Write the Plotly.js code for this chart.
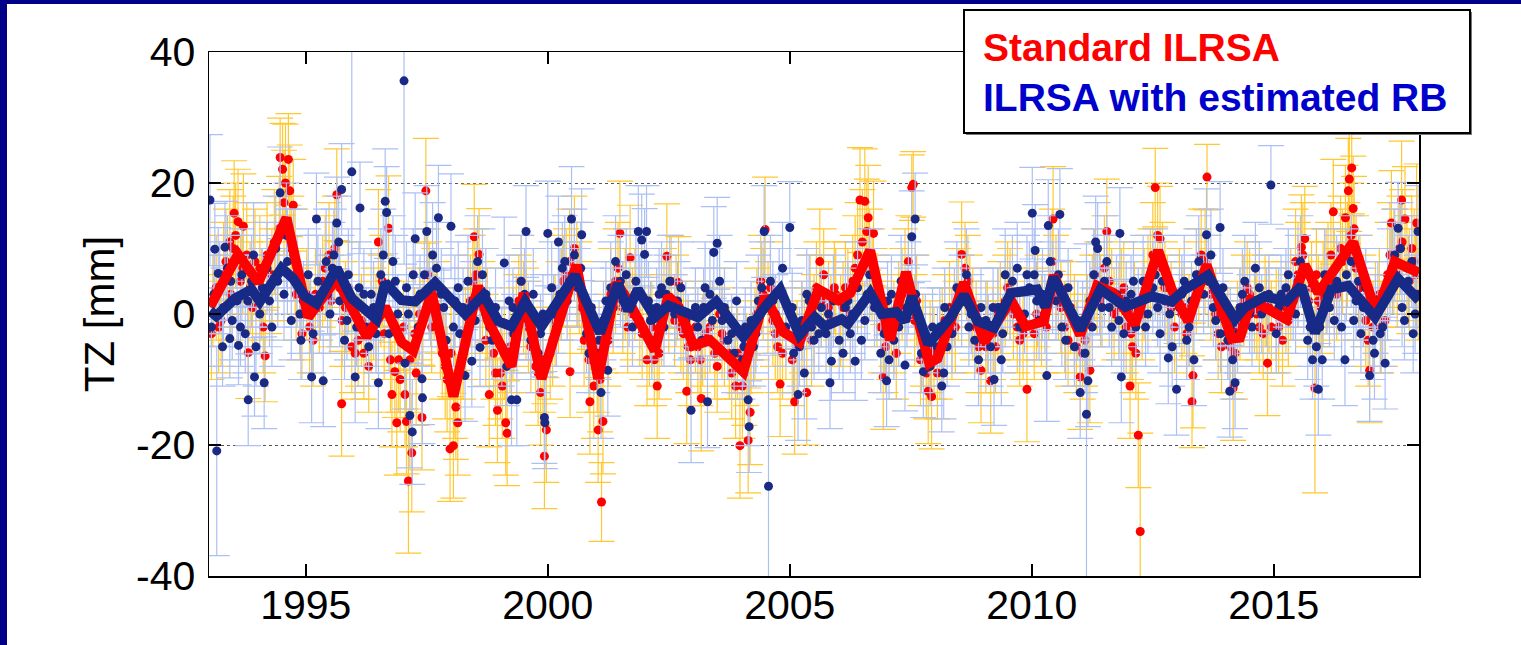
<!DOCTYPE html>
<html>
<head>
<meta charset="utf-8">
<script src="https://cdn.plot.ly/plotly-3.0.1.min.js"></script>
<style>
  html, body { margin: 0; padding: 0; background: #ffffff; }
  #chart { width: 1521px; height: 645px; }
</style>
</head>
<body>
<div id="chart"></div>
<script>
// ---------------- data ----------------
const xTicks = [1995, 2000, 2005, 2010, 2015];
const yTicks = [-40, -20, 0, 20, 40];

const seriesNames = ["Standard ILRSA", "ILRSA with estimated RB"];

// Blue points (ILRSA with estimated RB), first batch (incl. outliers)
const blueX = [
 1993.02,1993.05,1993.12,1993.16,1993.19,1993.22,1993.28,1993.33,1993.38,1993.43,1993.48,1993.58,1993.61,1993.68,1993.75,1993.81,1993.88,1993.92,1993.94,
 1994.05,1994.14,1994.2,1994.3,1994.38,1994.47,1994.55,1994.62,1994.7,1994.82,1994.9,1994.95,
 1995.05,1995.12,1995.15,1995.22,1995.3,1995.36,1995.42,1995.5,1995.58,1995.64,1995.7,1995.74,1995.8,1995.88,1995.95,
 1996.02,1996.05,1996.12,1996.2,1996.3,1996.4,1996.5,1996.55,1996.64,1996.67,1996.72,1996.8,1996.9,
 1997.03,1997.05,1997.08,1997.15,1997.2,1997.26,1997.32,1997.4,1997.41,1997.45,1997.5,1997.58,1997.62,1997.74,1997.8,1997.9,
 1998.0,1998.08,1998.18,1998.29,1998.35,1998.43,1998.5,1998.55,1998.6,1998.72,1998.85,1998.92,
 1999.05,1999.1,1999.2,1999.25,1999.3,1999.36,1999.45,1999.55,1999.6,1999.7,1999.8,1999.9,1999.93,1999.94,
 2000.0,2000.08,2000.18,2000.22,2000.3,2000.4,2000.49,2000.55,2000.62,2000.7,2000.8,2000.9,
 2001.02,2001.1,2001.15,2001.24,2001.3,2001.4,2001.55,2001.62,2001.75,2001.82,2001.87,2001.94,
 2002.0,2002.04,2002.08,2002.15,2002.3,2002.4,2002.52,2002.62,2002.75,2002.9,2002.96,
 2003.05,2003.18,2003.25,2003.3,2003.4,2003.43,2003.5,2003.55,2003.65,2003.8,2003.9,
 2004.02,2004.08,2004.14,2004.16,2004.25,2004.35,2004.47,2004.56,2004.6,2004.7,2004.85,2004.92,
 2005.0,2005.08,2005.17,2005.25,2005.3,2005.4,2005.5,2005.65,2005.75,2005.83,2005.86,2005.9,
 2006.02,2006.15,2006.25,2006.35,2006.4,2006.55,2006.65,2006.8,2006.95,
 2007.0,2007.05,2007.1,2007.25,2007.38,2007.45,2007.52,2007.59,2007.65,2007.72,2007.76,2007.9,2007.95,
 2008.05,2008.14,2008.18,2008.2,2008.35,2008.45,2008.65,2008.75,2008.82,2008.9,
 2009.05,2009.15,2009.22,2009.3,2009.37,2009.45,2009.55,2009.7,2009.85,2009.95,
 2010.01,2010.05,2010.07,2010.15,2010.22,2010.31,2010.34,2010.38,2010.5,2010.58,2010.62,2010.75,2010.88,
 2011.0,2011.05,2011.13,2011.16,2011.2,2011.28,2011.32,2011.36,2011.45,2011.55,2011.65,2011.75,2011.82,2011.85,2011.9,
 2012.05,2012.15,2012.3,2012.4,2012.55,2012.65,2012.75,2012.82,2012.9,2012.99,
 2013.05,2013.15,2013.25,2013.35,2013.45,2013.55,2013.61,2013.7,2013.8,2013.89,2013.95,
 2014.05,2014.09,2014.15,2014.2,2014.3,2014.4,2014.55,2014.62,2014.75,2014.9,2014.94,
 2015.05,2015.15,2015.3,2015.45,2015.55,2015.7,2015.8,2015.92,2015.95,
 2016.0,2016.05,2016.15,2016.3,2016.4,2016.47,2016.6,2016.7,2016.8,2016.9,2016.98,
 2017.05,2017.08,2017.15,2017.25,2017.3,2017.4,2017.5,2017.57,2017.62,2017.65,2017.78,2017.88,2017.95,2017.98
];
const blueY = [
 17.4,-2,9.9,-20.9,6.2,4,-5,10.2,7,-3.75,-1,2,-4.8,6,-3,-13.1,5,9,-9.6,
 0,-10.5,7,-2,10,18.5,3,8,-1,5,-4,2,
 6,-9.6,-3,14.5,3,-10.2,8,0,9,13.9,2,19,-4,6,21.7,
 -9.6,-2,16.2,3,-5,1,-10.5,6,17.2,15.5,-3,8,0,
 35.6,-7.5,4,-15.5,-18,11.5,-2,-9.9,-12.8,6,12.6,1,9,14.7,3,-4,
 13.4,2,-3,-9.4,5,-7.2,-1,8,-5.1,3,-4,1,
 -5,7.8,2,-13.1,-3,-13.1,5,12.6,-1,3,-6,0,-15.8,-16.6,
 12.3,4,-2,11,7,2,14.5,9,4,12.1,-3,1,
 -6,-12,-1,-8.6,4,8,2,6,-2,5,12.6,11.3,
 9.1,12.6,2,-4,3,-2,5,0,4,-3,-14.7,
 1,-4,4,-13.4,-1,9.4,10.8,5,1,-3,2,
 -7,-2,-13.1,-17.2,-5,2,12.6,-26.3,5,0,7,-2,
 13.2,-6,-12.3,-1,-9,2,-4,1,-3,-10.5,-7.2,2,
 -4,1,-3,-7.2,4,-1,6,2,-3,
 -10.2,-7,3,-2,-7.8,4,11.8,14.5,-1,-6,-8.8,-8,-2,
 -5,-11,-9,1,-3,4,6,0,-4,-7,
 -1,-5,-10,1,-7,6,2,7,0,4,
 15.4,6,9.7,-1,3,-9.4,13.5,8,2,15.2,-2,4,-5,
 -12,-1,-15.3,-10.2,2,6,11,10,1,8,-2,3,12.3,-9.6,-3,
 3,-2,5,0,6,-3,2,-6.7,-5,-11.5,
 1,5,-2,-7,8,3,12.1,9,-1,13.2,4,
 -4,-11.8,-7,-10.5,1,5,-2,7,0,3,19.7,
 -3,3,6,0,8,-4,-7,-11.5,-2,
 -7,6,1,5,-2,-7,8,2,-3,4,-9.4,
 -4,-6,2,-2,-7.5,6,9,13.1,10,1,5,-3,3,12.6
];
const blueErr = [
 10,6,7,16,7,7,6,7,8,6,6,7,6,7,6,7,7,8,6,
 6,7,7,6,8,7,7,8,6,7,6,6,
 7,7,6,7,7,7,8,6,7,7,7,7,6,7,20,
 7,6,7,7,6,7,7,7,8,7,6,7,6,
 28,7,7,8,8,7,6,7,7,7,7,6,8,8,7,6,
 8,7,6,7,7,7,6,7,6,7,6,6,
 6,7,7,7,6,7,7,7,6,7,6,6,7,7,
 8,7,6,7,7,6,8,7,6,7,6,6,
 6,7,6,7,7,7,6,7,6,7,7,7,
 7,7,6,6,7,6,7,6,7,6,8,
 6,6,7,7,6,7,7,7,6,6,6,
 6,6,7,7,6,7,7,20,7,6,7,6,
 7,6,7,6,7,7,6,6,6,7,6,7,
 6,6,6,6,7,6,7,6,6,
 7,6,6,6,7,7,7,7,6,6,7,6,6,
 6,7,7,6,6,7,7,6,6,7,
 6,6,7,6,7,7,6,7,6,7,
 7,7,7,6,7,7,7,7,6,7,6,6,6,
 7,6,26,7,6,7,7,7,6,7,6,6,7,7,6,
 6,6,7,6,7,6,6,7,6,7,
 6,7,6,7,7,6,7,7,6,7,6,
 6,7,6,7,6,7,6,7,6,6,6,
 6,6,7,6,7,6,6,7,6,
 6,7,6,7,6,7,7,6,6,6,7,
 6,7,6,6,7,7,7,7,7,6,7,6,6,7
];

// Blue points, second batch (points in the dense band near the curve)
const blueX2 = [
 1993.1,1993.3,1993.45,1993.65,1993.8,1993.97,
 1994.1,1994.25,1994.42,1994.6,1994.75,1994.88,
 1995.1,1995.25,1995.45,1995.55,1995.68,1995.85,
 1996.1,1996.25,1996.35,1996.45,1996.6,1996.85,
 1997.12,1997.22,1997.36,1997.55,1997.7,1997.85,
 1998.05,1998.15,1998.25,1998.45,1998.65,1998.8,
 1999.15,1999.28,1999.4,1999.52,1999.65,1999.85,
 2000.12,2000.25,2000.35,2000.45,2000.68,2000.85,
 2001.06,2001.2,2001.35,2001.5,2001.68,2001.9,
 2002.12,2002.25,2002.35,2002.45,2002.68,2002.85,
 2003.1,2003.22,2003.35,2003.6,2003.72,2003.85,
 2004.05,2004.2,2004.3,2004.42,2004.65,2004.78,
 2005.05,2005.2,2005.35,2005.45,2005.6,2005.8,
 2006.1,2006.2,2006.3,2006.48,2006.6,2006.75,2006.88,
 2007.02,2007.15,2007.3,2007.42,2007.6,2007.8,
 2008.1,2008.25,2008.4,2008.55,2008.7,2008.95,
 2009.1,2009.2,2009.4,2009.6,2009.75,2009.9,
 2010.1,2010.27,2010.43,2010.55,2010.7,2010.95,
 2011.1,2011.25,2011.4,2011.5,2011.6,2011.8,2011.95,
 2012.1,2012.2,2012.35,2012.5,2012.6,2012.7,2012.85,
 2013.1,2013.2,2013.3,2013.4,2013.65,2013.75,2013.9,
 2014.1,2014.25,2014.35,2014.5,2014.7,2014.85,
 2015.1,2015.25,2015.4,2015.5,2015.62,2015.75,2015.88,
 2016.1,2016.25,2016.35,2016.5,2016.65,2016.75,2016.85,
 2017.1,2017.2,2017.35,2017.45,2017.7,2017.85,2017.92
];
const blueY2 = [
 3,1,5,-2,2,-5,
 4,2,5,12,9,0,
 0,5,3,7,11,-1,
 4,-2,3,-3,9,5,
 0,6,3,2,7,1,
 -2,4,1,2,6,-2,
 -8,1,-1,3,-4,-3,
 0,3,8,5,7,-6,
 -4,2,1,5,1,3,
 -1,1,4,3,2,-1,
 -2,1,3,-1,-4,-6,
 -5,-1,-3,4,2,3,
 1,-5,3,-2,-3,0,
 -6,2,0,-4,3,1,-6,
 2,-4,5,1,3,-3,
 -2,-5,1,2,-2,1,
 -3,1,-3,5,-2,6,
 2,0,4,6,-4,-1,
 -6,-2,4,5,1,-1,2,
 5,1,-2,4,1,5,0,
 3,-4,2,6,5,1,-3,
 -2,-3,3,0,4,1,
 1,4,2,5,3,-2,-5,
 3,-1,4,6,-1,5,1,
 0,-3,3,7,-1,8,0
];
const blueErr2 = [
 6,6,7,6,7,6,
 6,7,7,8,7,6,
 6,7,6,7,7,6,
 7,6,7,6,7,7,
 6,7,6,6,7,6,
 6,7,6,6,7,6,
 6,6,6,7,6,6,
 6,7,7,6,7,6,
 6,6,6,7,6,6,
 6,6,7,6,6,6,
 6,6,7,6,6,6,
 6,6,6,7,6,7,
 6,6,7,6,6,6,
 6,6,6,6,7,6,6,
 6,6,7,6,6,6,
 6,6,6,7,6,6,
 6,6,6,7,6,6,
 6,6,7,7,6,6,
 6,6,7,7,6,6,6,
 6,6,6,7,6,7,6,
 6,6,6,7,7,6,6,
 6,6,7,6,7,6,
 6,6,6,7,6,6,6,
 6,6,7,7,6,7,6,
 6,6,7,7,6,7,6
];

// Red points (Standard ILRSA), first batch (incl. outliers)
const redX = [
 1993.05,1993.15,1993.25,1993.35,1993.43,1993.45,1993.52,1993.55,1993.6,1993.65,1993.71,1993.78,1993.81,1993.9,
 1994.05,1994.12,1994.16,1994.25,1994.35,1994.42,1994.47,1994.52,1994.58,1994.64,1994.67,1994.7,1994.74,1994.8,1994.92,
 1995.02,1995.15,1995.28,1995.4,1995.52,1995.6,1995.64,1995.74,1995.75,1995.88,
 1996.02,1996.15,1996.3,1996.4,1996.5,1996.58,1996.62,1996.71,1996.78,1996.84,1996.88,1996.92,
 1997.02,1997.05,1997.08,1997.12,1997.19,1997.28,1997.35,1997.4,1997.48,1997.52,1997.6,1997.72,1997.82,1997.92,1997.98,
 1998.0,1998.05,1998.1,1998.14,1998.2,1998.3,1998.4,1998.48,1998.52,1998.58,1998.65,1998.72,1998.79,1998.88,1998.96,
 1999.02,1999.06,1999.13,1999.16,1999.22,1999.35,1999.45,1999.55,1999.65,1999.75,1999.85,1999.93,1999.97,
 2000.05,2000.15,2000.28,2000.38,2000.46,2000.55,2000.65,2000.75,2000.87,2000.95,
 2001.02,2001.04,2001.11,2001.14,2001.2,2001.3,2001.45,2001.49,2001.55,2001.65,2001.7,2001.8,2001.95,
 2002.05,2002.15,2002.26,2002.3,2002.4,2002.46,2002.55,2002.62,2002.7,2002.8,2002.87,2002.95,
 2003.05,2003.15,2003.17,2003.25,2003.45,2003.55,2003.65,2003.8,2003.92,2003.97,
 2004.02,2004.1,2004.14,2004.18,2004.28,2004.4,2004.49,2004.55,2004.65,2004.75,2004.8,2004.92,
 2005.05,2005.1,2005.25,2005.35,2005.42,2005.5,2005.62,2005.7,2005.8,2005.92,
 2006.05,2006.15,2006.25,2006.35,2006.45,2006.5,2006.55,2006.59,2006.62,2006.7,2006.73,2006.8,2006.93,2006.98,
 2007.1,2007.2,2007.32,2007.45,2007.52,2007.55,2007.62,2007.75,2007.82,2007.86,2007.93,2007.98,
 2008.05,2008.15,2008.3,2008.42,2008.55,2008.62,2008.72,2008.85,2008.95,
 2009.08,2009.15,2009.25,2009.35,2009.5,2009.62,2009.75,2009.9,
 2010.05,2010.12,2010.3,2010.42,2010.44,2010.55,2010.68,2010.8,2010.92,
 2011.0,2011.05,2011.15,2011.2,2011.3,2011.42,2011.55,2011.6,2011.7,2011.85,2011.95,
 2012.03,2012.08,2012.12,2012.2,2012.24,2012.32,2012.45,2012.55,2012.6,2012.65,2012.7,2012.8,2012.95,
 2013.05,2013.2,2013.31,2013.33,2013.4,2013.5,2013.62,2013.65,2013.8,2013.92,
 2014.05,2014.16,2014.2,2014.3,2014.45,2014.6,2014.7,2014.82,2014.87,2014.95,
 2015.05,2015.18,2015.35,2015.45,2015.57,2015.64,2015.72,2015.85,2015.88,2015.98,
 2016.08,2016.18,2016.23,2016.3,2016.42,2016.48,2016.54,2016.56,2016.6,2016.61,2016.64,2016.7,2016.85,2016.95,2016.98,
 2017.05,2017.18,2017.3,2017.4,2017.43,2017.55,2017.64,2017.65,2017.71,2017.8,2017.9,2017.95,2017.98
];
const redY = [
 -3,4,-1,8,11,3,15.4,12,14.1,5,13.4,9,-5.9,1,
 7,-2,-6.4,4,11,6,23.9,22.1,20,23.6,18.8,10,16.6,3,-3,
 3,-4,1,7,2,10,18.2,-13.7,-1,4,
 -6,-1,-8,0,11,5,-3,13.1,-12.3,-8.8,-16.6,-7,
 -2,-12.3,-16.4,-25.5,-21.2,-9,0,-15.8,18.8,6,-2,1,-6,-10,-20.6,
 -6,-20.1,-14.2,-16.6,-9,-3,2,11.8,6,9.1,1,-4,-12.3,-6,-14.7,
 -9,-11,-16.6,-18.2,-5,-1,5,0,-5,-8,-12,-21.7,-17.7,
 -6,-1,3,6,-8.8,10,4,-4,-13.4,-11,
 -8,-17.7,-28.7,-16.4,-2,3,7,12.3,1,-2,8.6,3,-3,
 -7,-2,-11,-6,3,8.8,5,-1,4.8,-3,-11.8,-7,
 -2,-7,-12.9,-3,-6,0,-4,-9,-6,-20.1,
 -11,-7,-19.3,-15,-3,5,12.9,1,-1,-5,-10.7,-3,
 -7,-13.4,-2,-12,2,-1,8,6,1,4,
 -1,4,0,7,17.4,11,17.2,12.6,14.7,6,12.3,2,-9.6,-5,
 -1,-6,3,8,19.3,19.8,2,-4,-9,-11.8,-12.6,-6,
 -9,-3,1,-2,9.1,7,2,-2,-8.6,
 -2,-10.2,-5,1,4,0,-4,-11.5,
 -3,2,-2,8,14.5,3,-2,1,-5,
 -9.6,-6,-1,-8.6,6,2,12.6,5,0,3,-2,
 -11,-5,1,-18.5,-33.2,3,6,19.3,12,11.5,7,2,-2,
 3,-3,-13.4,-9.4,4,9,20.9,5,0,-5,
 -3,-11.3,-6,0,4,1,-2,2,-7.5,-2,
 0,-4,3,8,10.2,11.5,2,-11.3,6,1,
 5,9,15.6,3,8,14.7,18.8,20.6,12,22.3,16.1,7,2,-4,-8.6,
 -2,3,-1,9,13.9,6,17.4,11,14.5,5,8,13.9,3
];
const redErr = [
 7,8,7,8,8,7,8,8,8,7,8,8,7,7,
 8,7,7,7,8,7,6,7,9,7,7,8,7,7,7,
 7,7,7,8,7,8,7,8,7,7,
 7,7,7,7,8,7,7,8,8,7,8,8,
 7,8,8,11,9,8,7,8,8,7,7,7,7,8,8,
 7,8,8,8,7,7,7,8,7,7,7,7,8,7,8,
 7,8,8,8,7,7,7,7,7,7,8,8,8,
 7,7,7,7,7,8,7,7,8,8,
 7,8,6,8,7,7,7,8,7,7,8,7,7,
 7,7,8,7,7,8,7,7,7,7,8,7,
 7,7,8,7,7,7,7,7,7,8,
 8,7,8,8,7,7,8,7,7,7,8,7,
 7,8,7,8,7,7,8,7,7,7,
 7,7,7,8,8,8,8,8,8,7,8,7,8,7,
 7,7,7,7,5,5,7,7,7,8,8,7,
 7,7,7,7,8,7,7,7,8,
 7,8,7,7,7,7,7,8,
 7,7,7,8,8,7,7,7,7,
 8,7,7,8,7,7,8,7,7,7,7,
 8,7,7,8,15,7,7,6,8,8,7,7,7,
 7,7,7,8,7,7,5,7,7,7,
 7,8,7,7,7,7,7,7,8,7,
 7,7,7,8,8,8,7,16,7,7,
 8,8,8,7,8,8,8,8,8,7,8,8,7,7,8,
 7,7,7,8,8,8,9,8,8,8,8,9,7
];

// Red points, second batch (dense band near the curve)
const redX2 = [
 1993.08,1993.2,1993.3,1993.5,1993.7,1993.85,1993.95,
 1994.08,1994.2,1994.3,1994.45,1994.55,1994.78,1994.88,
 1995.08,1995.2,1995.35,1995.48,1995.7,1995.82,1995.95,
 1996.08,1996.2,1996.35,1996.45,1996.55,1996.75,1996.95,
 1997.15,1997.25,1997.42,1997.55,1997.65,1997.78,1997.88,
 1998.08,1998.25,1998.35,1998.45,1998.6,1998.75,1998.92,
 1999.1,1999.28,1999.4,1999.5,1999.6,1999.8,1999.9,
 2000.1,2000.22,2000.32,2000.45,2000.6,2000.7,2000.85,
 2001.08,2001.25,2001.35,2001.4,2001.6,2001.75,2001.9,
 2002.1,2002.2,2002.35,2002.5,2002.65,2002.75,2002.9,
 2003.1,2003.2,2003.35,2003.5,2003.6,2003.75,2003.88,
 2004.06,2004.2,2004.32,2004.45,2004.6,2004.7,2004.85,
 2005.15,2005.3,2005.45,2005.55,2005.65,2005.85,2005.95,
 2006.1,2006.2,2006.3,2006.4,2006.65,2006.75,2006.88,
 2007.05,2007.15,2007.25,2007.38,2007.58,2007.7,2007.9,
 2008.1,2008.2,2008.35,2008.48,2008.68,2008.78,2008.9,
 2009.05,2009.2,2009.3,2009.45,2009.55,2009.7,2009.82,
 2010.1,2010.2,2010.35,2010.5,2010.6,2010.75,2010.88,
 2011.1,2011.25,2011.35,2011.5,2011.65,2011.8,2011.9,
 2012.05,2012.15,2012.28,2012.4,2012.5,2012.75,2012.88,
 2013.1,2013.15,2013.25,2013.45,2013.58,2013.7,2013.85,
 2014.1,2014.25,2014.38,2014.5,2014.65,2014.78,2014.9,
 2015.1,2015.25,2015.3,2015.5,2015.6,2015.78,2015.92,
 2016.02,2016.12,2016.25,2016.38,2016.52,2016.66,2016.78,2016.9,
 2017.1,2017.22,2017.35,2017.48,2017.6,2017.75,2017.85,2017.93
];
const redY2 = [
 2,-2,6,10,7,4,8,
 3,9,6,13,17,8,0,
 -2,3,5,9,4,1,-5,
 -4,-6,-2,-1,2,-7,-10,
 -7,-3,-1,4,3,-3,-8,
 -11,-6,0,5,3,0,-9,
 -6,-3,2,1,-2,-9,-7,
 -4,1,5,8,6,1,-7,
 -10,-4,1,5,3,0,-1,
 -4,-7,-1,1,2,-2,-5,
 -5,-4,-2,-8,-3,-6,-11,
 -9,-5,0,3,4,-3,-6,
 -5,-3,-4,4,2,-1,3,
 1,3,5,9,8,3,-2,
 -3,-2,1,5,-1,-7,-5,
 -6,-1,-3,3,5,0,-5,
 -5,-3,0,2,3,-2,-3,
 0,-1,3,5,1,-4,-1,
 -4,2,4,7,3,1,4,
 -3,-6,0,5,9,4,1,
 0,1,-1,6,8,3,-3,
 -5,-2,2,3,0,-3,1,
 -2,1,-1,6,9,4,2,
 3,6,5,10,9,13,4,-1,
 1,-2,6,8,10,7,10,6
];
const redErr2 = [
 7,7,8,8,7,7,8,
 7,8,7,8,8,8,7,
 7,7,7,8,7,7,7,
 7,7,7,7,7,8,8,
 8,7,7,7,7,7,8,
 8,7,7,7,7,7,8,
 7,7,7,7,7,8,8,
 7,7,7,8,8,7,8,
 8,7,7,8,7,7,7,
 7,7,7,7,7,7,7,
 7,7,7,7,7,7,8,
 8,7,7,7,7,7,7,
 7,7,7,7,7,7,7,
 7,7,7,8,8,7,7,
 7,7,7,8,7,7,7,
 7,7,7,7,7,7,7,
 7,7,7,7,7,7,7,
 7,7,7,7,7,7,7,
 7,7,7,8,7,7,7,
 7,7,7,7,8,7,7,
 7,7,7,7,8,7,7,
 7,7,7,7,7,7,7,
 7,7,7,8,8,7,7,
 8,8,8,8,8,8,8,7,
 7,7,8,8,8,8,8,8
];

// Smoothed curves
const redLineX = [1993.02,1993.6,1994.02,1994.6,1995.05,1995.64,1996.26,1996.64,1996.98,1997.22,1997.6,1998.05,1998.56,1998.77,1999.25,1999.5,1999.87,2000.59,2001.04,2001.42,2001.73,2002.21,2002.49,2002.7,2003.01,2003.35,2004.04,2004.49,2004.86,2005.2,2005.59,2006.0,2006.25,2006.66,2007.07,2007.4,2007.88,2008.05,2008.6,2009.02,2009.57,2009.87,2010.25,2010.45,2011.0,2011.35,2011.69,2012.13,2012.61,2012.89,2013.23,2013.61,2014.13,2014.3,2014.54,2015.26,2015.64,2015.92,2016.64,2017.12,2017.5,2018.0];
const redLineY = [1.1,9.1,4.8,14.7,-0.5,5.4,-3.5,1.1,-4.3,-5.6,3.2,-12.6,4.3,-1.1,-8.0,3.2,-9.9,7.5,-9.9,4.8,1.1,-5.6,2.7,1.1,-4.8,-4.0,-8.8,2.7,-2.7,-4.3,3.75,2.1,3.2,9.7,-4.0,6.4,-7.5,-6.8,4.8,-4.3,2.1,-1.9,-1.1,5.9,-3.2,4.3,3.2,-1.6,9.7,3.75,-1.1,7.5,-3.75,-3.6,2.1,-0.8,7.5,3.2,11.0,0,8.0,6.3];

const blueLineX = [1993.02,1993.15,1993.54,1993.88,1994.05,1994.5,1994.74,1994.98,1995.22,1995.64,1995.95,1996.46,1996.64,1996.98,1997.26,1997.67,1998.29,1998.67,1998.98,1999.25,1999.53,1999.87,2000.56,2001.08,2001.45,2001.66,2001.86,2002.21,2002.49,2002.83,2003.1,2003.48,2004.04,2004.49,2004.8,2005.2,2005.52,2005.72,2006.07,2006.2,2006.66,2006.9,2007.2,2007.38,2007.52,2007.86,2008.32,2008.6,2008.88,2009.22,2009.57,2010.11,2010.28,2010.45,2011.0,2011.42,2011.69,2011.93,2012.48,2012.89,2013.16,2013.64,2014.2,2014.4,2014.82,2015.26,2015.57,2015.85,2016.19,2016.54,2017.09,2017.57,2018.0];
const blueLineY = [0.5,-0.3,2.4,3.75,1.9,7.0,5.4,2.7,1.6,7.0,2.4,-0.8,4.8,2.1,1.9,4.8,0,2.9,-1.1,-1.9,1.9,-1.9,5.9,-2.9,4.6,0.5,3.75,-0.5,1.3,0.5,-0.5,1.9,-3.5,1.1,3.75,-3.2,-0.5,-1.9,-0.8,-1.5,3.2,0,0.3,-1.1,2.7,-4.6,-0.5,2.9,-1.1,-2.1,3.2,3.75,1.1,5.6,-2.4,3.75,2.1,1.1,2.7,1.9,3.75,5.9,-0.8,1.0,2.7,1.9,4.3,-2.9,3.75,4.3,-0.5,5.4,2.1];

// ---------------- drawing ----------------
const FONT = 'Arial, "Liberation Sans", sans-serif';
const W = 1521, H = 645;
const L = 209, R = 1419, T = 52, B = 576;
const px = x => (x - L) / (R - L);   // pixel -> paper
const py = y => (B - y) / (B - T);

const allRedX = redX.concat(redX2), allRedY = redY.concat(redY2), allRedErr = redErr.concat(redErr2);
const allBlueX = blueX.concat(blueX2), allBlueY = blueY.concat(blueY2), allBlueErr = blueErr.concat(blueErr2);

const traces = [
  {
    x: allRedX, y: allRedY, type: 'scatter', mode: 'markers', name: seriesNames[0],
    marker: { color: '#ff0000', size: 9 },
    error_y: { type: 'data', array: allRedErr, visible: true, color: '#ffc832', thickness: 1.2, width: 13 },
    showlegend: false
  },
  {
    x: allBlueX, y: allBlueY, type: 'scatter', mode: 'markers', name: seriesNames[1],
    marker: { color: '#1a2a84', size: 9 },
    error_y: { type: 'data', array: allBlueErr, visible: true, color: '#adc0f5', thickness: 1.2, width: 13 },
    showlegend: false
  },
  {
    x: redLineX, y: redLineY, type: 'scatter', mode: 'lines', name: seriesNames[0],
    line: { color: '#ff0000', width: 10 }, showlegend: false
  },
  {
    x: blueLineX, y: blueLineY, type: 'scatter', mode: 'lines', name: seriesNames[1],
    line: { color: '#172a87', width: 10 }, showlegend: false
  }
];

const layout = {
  width: W, height: H,
  paper_bgcolor: '#ffffff', plot_bgcolor: '#ffffff',
  margin: { l: L, r: W - R, t: T, b: H - B, pad: 0 },
  font: { family: FONT, color: '#000000' },
  showlegend: false,
  xaxis: {
    range: [1993, 2018], tickvals: xTicks, ticktext: xTicks.map(String),
    ticks: 'inside', ticklen: 12, tickwidth: 1.5, tickcolor: '#000',
    showline: true, linecolor: '#000', linewidth: 1.5, mirror: 'ticks',
    showgrid: false, zeroline: false,
    tickfont: { family: FONT, size: 41, color: '#000' },
    ticklabelstandoff: -8,
    automargin: false, fixedrange: true
  },
  yaxis: {
    range: [-40, 40], tickvals: yTicks, ticktext: yTicks.map(String),
    ticks: 'inside', ticklen: 12, tickwidth: 1.5, tickcolor: '#000',
    showline: true, linecolor: '#000', linewidth: 1.5, mirror: 'ticks',
    showgrid: true, gridcolor: '#555555', gridwidth: 1, griddash: 'dot',
    zeroline: false,
    tickfont: { family: FONT, size: 41, color: '#000' },
    ticklabelstandoff: 4,
    title: { text: 'TZ [mm]', font: { family: FONT, size: 42, color: '#000' }, standoff: 8 },
    automargin: false, fixedrange: true
  },
  shapes: [
    // navy frame bars (left and top)
    { type: 'rect', xref: 'paper', yref: 'paper', x0: px(0), x1: px(7), y0: py(H), y1: py(0),
      fillcolor: '#000088', line: { width: 0 }, layer: 'above' },
    { type: 'rect', xref: 'paper', yref: 'paper', x0: px(0), x1: px(W), y0: py(4), y1: py(0),
      fillcolor: '#000088', line: { width: 0 }, layer: 'above' },
    // legend box shadow and box
    { type: 'rect', xref: 'paper', yref: 'paper', x0: px(966), x1: px(1472), y0: py(135), y1: py(12),
      fillcolor: '#777777', line: { width: 0 }, layer: 'above' },
    { type: 'rect', xref: 'paper', yref: 'paper', x0: px(964), x1: px(1470), y0: py(133), y1: py(10),
      fillcolor: '#ffffff', line: { color: '#000000', width: 2 }, layer: 'above' }
  ],
  annotations: [
    { xref: 'paper', yref: 'paper', x: px(981), y: py(47), xanchor: 'left', yanchor: 'middle',
      text: '<b>' + seriesNames[0] + '</b>', showarrow: false,
      font: { family: FONT, size: 39, color: '#ff0000' } },
    { xref: 'paper', yref: 'paper', x: px(981), y: py(97), xanchor: 'left', yanchor: 'middle',
      text: '<b>' + seriesNames[1] + '</b>', showarrow: false,
      font: { family: FONT, size: 39, color: '#0000cc' } }
  ]
};

Plotly.newPlot('chart', traces, layout, { displayModeBar: false, staticPlot: true });
</script>
</body>
</html>
